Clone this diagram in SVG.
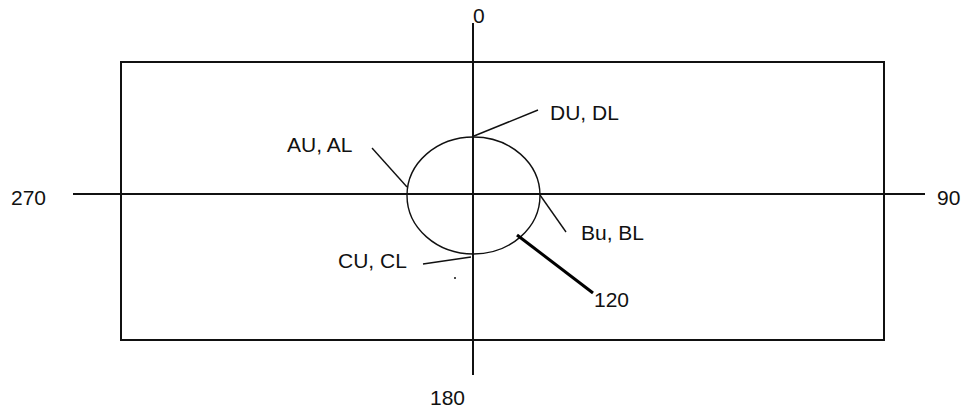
<svg xmlns="http://www.w3.org/2000/svg" width="967" height="411" viewBox="0 0 967 411">
<style>
.t{font-family:"Liberation Sans",Arial,sans-serif;font-size:21px;fill:#111}
.l{stroke:#111;fill:none;stroke-width:2}
.thin{stroke:#111;fill:none;stroke-width:1.4}
</style>
<rect width="967" height="411" fill="#fff"/>
<g id="frame"><rect class="l" x="121" y="62" width="763" height="278"/></g>
<g id="axes">
<line class="l" x1="73" y1="194" x2="925" y2="194"/>
<line class="l" x1="473" y1="23" x2="473" y2="375"/>
</g>
<g id="circle"><ellipse class="thin" cx="473.5" cy="195.5" rx="66.5" ry="58.5"/></g>
<g id="connectors">
<line class="thin" x1="474" y1="136" x2="538" y2="110"/>
<line class="thin" x1="372" y1="148" x2="407" y2="187"/>
<line class="thin" x1="540" y1="195" x2="566" y2="232"/>
<line class="thin" x1="423" y1="264" x2="471" y2="257"/>
<line stroke="#000" stroke-width="3" x1="517" y1="235" x2="593" y2="293"/>
<circle cx="455" cy="278" r="1" fill="#111"/>
</g>
<g id="labels">
<text class="t" x="473" y="23">0</text>
<text class="t" x="11" y="205">270</text>
<text class="t" x="937" y="205">90</text>
<text class="t" x="430" y="405">180</text>
<text class="t" x="550" y="120">DU, DL</text>
<text class="t" x="287" y="152">AU, AL</text>
<text class="t" x="581" y="240">Bu, BL</text>
<text class="t" x="338" y="268">CU, CL</text>
<text class="t" x="594" y="307">120</text>
</g>
</svg>
